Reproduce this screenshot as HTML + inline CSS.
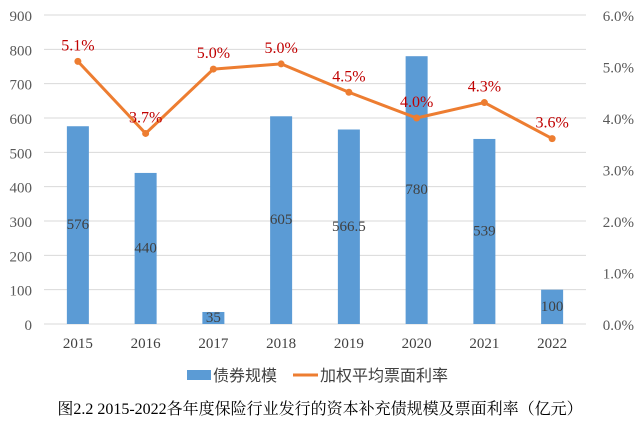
<!DOCTYPE html>
<html><head><meta charset="utf-8"><style>
body{margin:0;background:#fff}
svg{display:block}
text{font-family:"Liberation Serif","Noto Serif CJK SC",serif}
</style></head><body>
<svg id="c" width="640" height="424"></svg>
<script>
const years=["2015","2016","2017","2018","2019","2020","2021","2022"];
const amounts=[576,440,35,605,566.5,780,539,100];
const amountLabels=["576","440","35","605","566.5","780","539","100"];
const rates=[5.1,3.7,4.95,5.05,4.5,4.0,4.3,3.6];
const rateLabels=["5.1%","3.7%","5.0%","5.0%","4.5%","4.0%","4.3%","3.6%"];
const leftTicks=[0,100,200,300,400,500,600,700,800,900];
const rightTicks=[0,1,2,3,4,5,6];
const NS="http://www.w3.org/2000/svg";
const svg=document.getElementById('c');
const x0=44,x1=586,yB=324,yT=15;
const yL=v=>yB-(v/900)*(yB-yT);
const yR=v=>yB-(v/6)*(yB-yT);
const step=(x1-x0)/years.length;
const xC=i=>x0+step*(i+0.5);
function el(t,a,p){const e=document.createElementNS(NS,t);for(const k in a)e.setAttribute(k,a[k]);(p||svg).appendChild(e);return e;}
leftTicks.forEach(v=>{
 const g=el('line',{x1:x0,x2:x1,y1:yL(v),y2:yL(v),stroke:'#d9d9d9','stroke-width':1});
 
 
 const t=el('text',{x:32,y:yL(v)+6,'text-anchor':'end','font-size':15,fill:'#595959'});t.textContent=v;
 
 
});
rightTicks.forEach(v=>{
 const t=el('text',{x:634,y:yR(v)+6,'text-anchor':'end','font-size':15,fill:'#595959'});t.textContent=v.toFixed(1)+'%';
 
 
});
years.forEach((y,i)=>{
 const b=el('rect',{x:xC(i)-11,y:yL(amounts[i]),width:22,height:yB-yL(amounts[i]),fill:'#5B9BD5'});
 
 
 const lt=el('text',{x:xC(i),y:(yL(amounts[i])+yB)/2+4,'text-anchor':'middle','font-size':15,fill:'#404040'});lt.textContent=amountLabels[i];
 
 
 const xt=el('text',{x:xC(i),y:348,'text-anchor':'middle','font-size':15,fill:'#404040'});xt.textContent=y;
 
 
});
const pl=el('polyline',{points:rates.map((r,i)=>xC(i)+','+yR(r)).join(' '),fill:'none',stroke:'#ED7D31','stroke-width':3,'stroke-linejoin':'round'});


rates.forEach((r,i)=>{
 const c=el('circle',{cx:xC(i),cy:yR(r),r:3.5,fill:'#ED7D31'});
 
 
 const t=el('text',{x:xC(i),y:yR(r)-11,'text-anchor':'middle','font-size':16,fill:'#C00000'});t.textContent=rateLabels[i];
 
 
});
</script>
<div style="position:absolute;left:0;top:0;width:640px;height:424px;pointer-events:none">
<svg width="640" height="424" style="position:absolute;left:0;top:0">
<g>
<rect x="187" y="370" width="24" height="10" fill="#5B9BD5"/>
<text x="213" y="381" font-size="16" fill="#404040" style="font-family:'Liberation Sans','Noto Sans CJK SC',sans-serif">债券规模</text>
<line x1="293" x2="318" y1="375" y2="375" stroke="#ED7D31" stroke-width="3"/>
<text x="320" y="381" font-size="16" fill="#404040" style="font-family:'Liberation Sans','Noto Sans CJK SC',sans-serif">加权平均票面利率</text>
</g>
<text x="320" y="414" text-anchor="middle" font-size="16" fill="#000" style="font-family:'Liberation Serif','Noto Serif CJK SC',serif">图2.2  2015-2022各年度保险行业发行的资本补充债规模及票面利率（亿元）</text>
</svg></div>
</body></html>
